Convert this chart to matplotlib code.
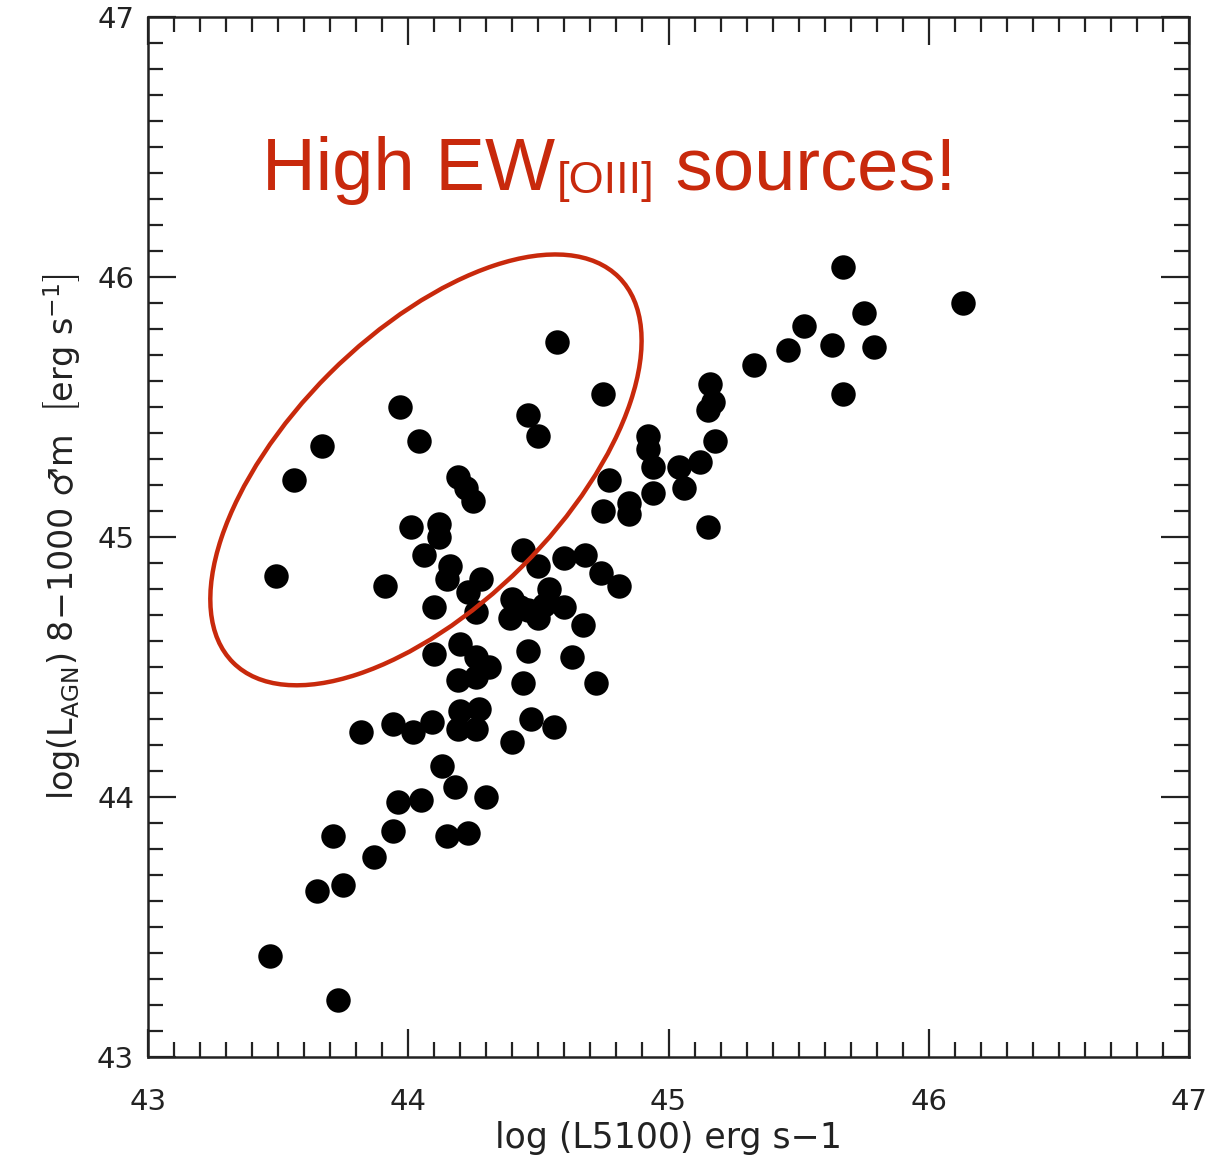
import matplotlib.pyplot as plt
from matplotlib.patches import Ellipse
from matplotlib.ticker import MultipleLocator

# log L5100 and log L_AGN(8-1000um)
log_l5100 = [43.49, 43.56, 43.67, 43.97, 44.04, 44.01, 44.12, 44.12, 44.06, 43.91,
             44.16, 44.15, 44.28, 44.10, 44.19, 44.22, 44.25, 44.23, 44.26, 44.44,
             44.50, 44.60, 44.68, 44.74, 44.81, 44.54, 44.40, 44.46, 44.50, 44.39,
             44.60, 44.67, 44.20, 44.10, 44.26, 44.31, 44.19, 44.26, 44.46, 44.44,
             44.63, 44.72, 43.82, 43.94, 44.02, 44.09, 44.20, 44.27, 44.19, 44.26,
             44.47, 44.56, 44.40, 44.13, 44.18, 44.30, 43.96, 44.05, 43.71, 43.94,
             44.15, 44.23, 43.87, 43.65, 43.75, 43.47, 43.73, 44.57, 44.75, 44.46,
             44.50, 44.77, 44.75, 44.85, 44.85, 44.92, 44.92, 44.94, 45.04, 45.12,
             45.18, 45.06, 44.94, 45.15, 45.16, 45.17, 45.15, 45.33, 45.46, 45.52,
             45.63, 45.67, 45.67, 45.75, 45.79, 46.13, 44.43, 44.52]
log_lagn = [44.85, 45.22, 45.35, 45.50, 45.37, 45.04, 45.05, 45.00, 44.93, 44.81,
            44.89, 44.84, 44.84, 44.73, 45.23, 45.19, 45.14, 44.79, 44.71, 44.95,
            44.89, 44.92, 44.93, 44.86, 44.81, 44.80, 44.76, 44.72, 44.69, 44.69,
            44.73, 44.66, 44.59, 44.55, 44.54, 44.50, 44.45, 44.46, 44.56, 44.44,
            44.54, 44.44, 44.25, 44.28, 44.25, 44.29, 44.33, 44.34, 44.26, 44.26,
            44.30, 44.27, 44.21, 44.12, 44.04, 44.00, 43.98, 43.99, 43.85, 43.87,
            43.85, 43.86, 43.77, 43.64, 43.66, 43.39, 43.22, 45.75, 45.55, 45.47,
            45.39, 45.22, 45.10, 45.13, 45.09, 45.39, 45.34, 45.27, 45.27, 45.29,
            45.37, 45.19, 45.17, 45.04, 45.59, 45.52, 45.49, 45.66, 45.72, 45.81,
            45.74, 45.55, 46.04, 45.86, 45.73, 45.90, 44.73, 44.74]

red = '#c8290c'
ink = '#222222'

fig = plt.figure(figsize=(12.09, 11.62), dpi=100)
ax = fig.add_axes([0.1224, 0.0904, 0.8611, 0.895])

ax.scatter(log_l5100, log_lagn, s=310, c='black', marker='o', linewidths=0, zorder=3)

# ellipse round the high-EW sources
ax.add_patch(Ellipse((44.068, 45.258), 2 * 1.048, 2 * 0.524, angle=45,
                     fill=False, edgecolor=red, linewidth=3.2, zorder=4))

ax.set_xlim(43, 47)
ax.set_ylim(43, 47)
ax.set_xticks([43, 44, 45, 46, 47])
ax.set_yticks([43, 44, 45, 46, 47])
ax.xaxis.set_minor_locator(MultipleLocator(0.1))
ax.yaxis.set_minor_locator(MultipleLocator(0.1))
ax.tick_params(which='both', direction='in', top=True, right=True, width=1.6, color=ink)
ax.tick_params(which='major', length=20)
ax.tick_params(which='minor', length=11)
ax.tick_params(axis='x', labelsize=21, pad=22, labelcolor=ink)
ax.tick_params(axis='y', labelsize=21, pad=10, labelcolor=ink)
for sp in ax.spines.values():
    sp.set_linewidth(1.8)
    sp.set_color(ink)

ax.set_xlabel('log (L5100) erg s\u22121', fontsize=25, color=ink, labelpad=4)
ylab = (r'log(L$_{\rm AGN}$) 8$-$1000 ' + '\u2642m  '
        + r'$\left[\mathrm{erg\ s^{-1}}\right]$')
ax.set_ylabel(ylab, fontsize=24, color=ink, labelpad=10)

# annotation text, built in three pieces for the subscript
base_y = 46.335
fam = ['Liberation Sans', 'DejaVu Sans']
t1 = ax.text(43.44, base_y, 'High EW', fontsize=53.5, color=red,
             family=fam, va='baseline', ha='left')
t2 = ax.annotate('[OIII]', xy=(1, base_y - 0.012), xycoords=(t1, 'data'),
                 xytext=(1, 0), textcoords='offset points',
                 fontsize=32.5, color=red, family=fam, va='baseline', ha='left')
ax.annotate(' sources!', xy=(1, base_y), xycoords=(t2, 'data'),
            fontsize=53.5, color=red, family=fam, va='baseline', ha='left')

fig.savefig('out.png', dpi=100)
